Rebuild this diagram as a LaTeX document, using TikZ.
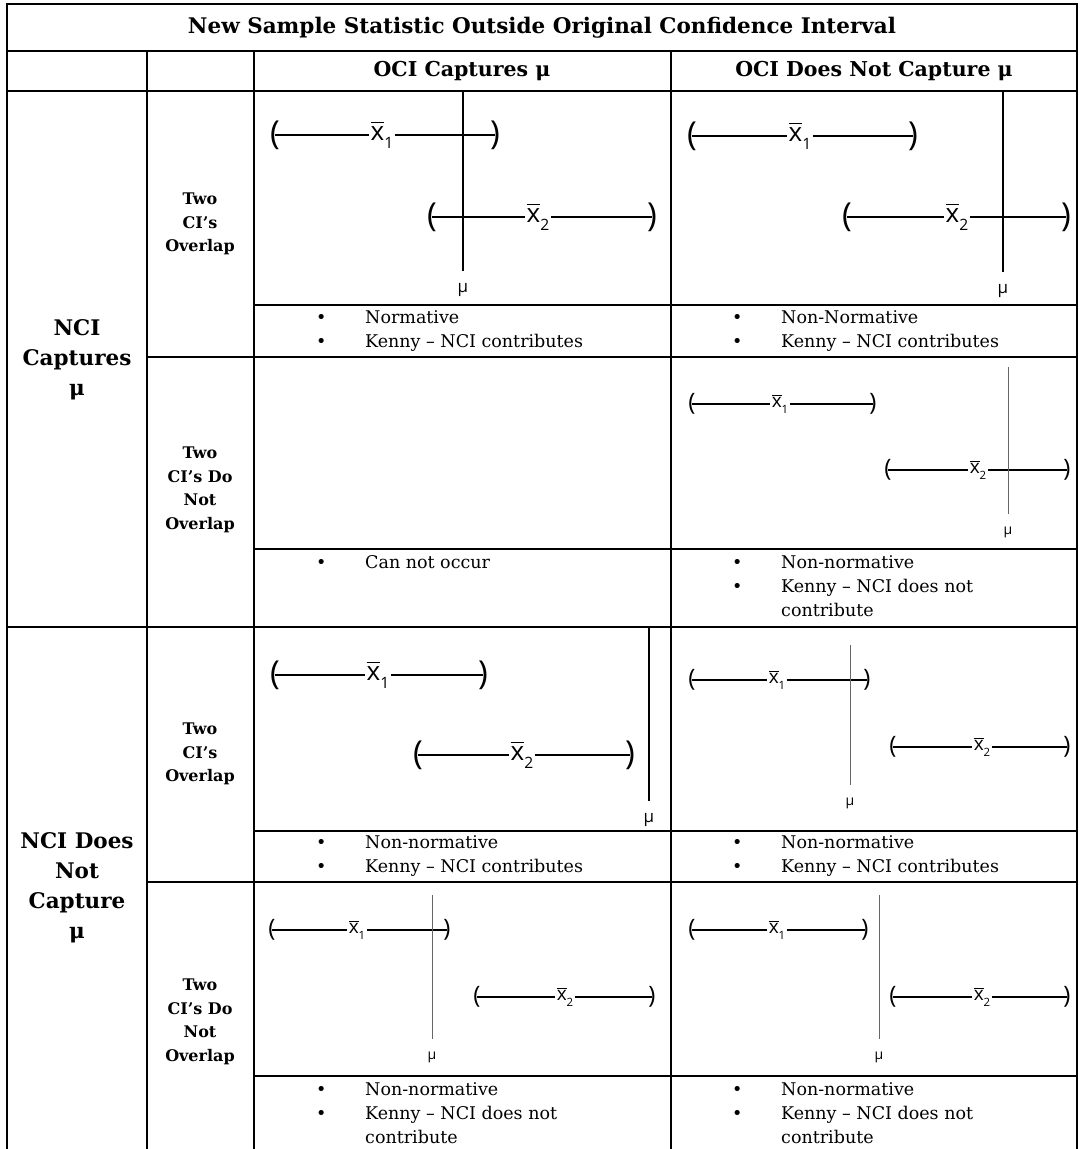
\documentclass[tikz,border=0pt]{standalone}
\usepackage{amsmath}
\usepackage{fontspec}
\setmainfont{DejaVu Serif}
\newfontfamily\lblfont{Open Sans}
\usepackage{tikz}

\begin{document}
\begin{tikzpicture}[x=1pt, y=-1pt,
    grid/.style={line width=2.2pt, line cap=rect},
    ttl/.style={font=\bfseries\fontsize{21.5}{26}\selectfont},
    hdr/.style={font=\bfseries\fontsize{20.5}{26}\selectfont},
    rowlbl/.style={font=\bfseries\fontsize{21.5}{30}\selectfont, align=center},
    sublbl/.style={font=\bfseries\fontsize{16}{23.5}\selectfont, align=center},
    blist/.style={anchor=west, inner sep=0pt, font=\fontsize{17.5}{24}\selectfont},
    bigpar/.style={inner sep=0pt, font=\lblfont\fontsize{33}{33}\selectfont},
    smallpar/.style={inner sep=0pt, font=\lblfont\fontsize{24}{24}\selectfont},
    bigx/.style={inner sep=2pt, font=\lblfont\fontsize{26}{26}\selectfont},
    smallx/.style={inner sep=1.5pt, font=\lblfont\fontsize{19}{19}\selectfont},
    bigmu/.style={inner sep=0pt, font=\lblfont\fontsize{17}{17}\selectfont},
    smallmu/.style={inner sep=0pt, font=\lblfont\fontsize{14}{14}\selectfont},
    ci/.style={line width=1.3pt},
    muline/.style={line width=1.2pt, shorten >=12pt},
    smallmuline/.style={line width=1pt, black!60, shorten >=12pt}]
    \useasboundingbox (0,0) rectangle (1080,1149);

    % table rules
    \draw[grid] (7,4) -- (1077,4);
    \draw[grid] (7,51) -- (1077,51);
    \draw[grid] (7,91) -- (1077,91);
    \draw[grid] (254,305) -- (1077,305);
    \draw[grid] (147,357) -- (1077,357);
    \draw[grid] (254,549) -- (1077,549);
    \draw[grid] (7,627) -- (1077,627);
    \draw[grid] (254,831) -- (1077,831);
    \draw[grid] (147,882) -- (1077,882);
    \draw[grid] (254,1076) -- (1077,1076);
    \draw[grid] (7,4) -- (7,1160);
    \draw[grid] (1077,4) -- (1077,1160);
    \draw[grid] (147,51) -- (147,1160);
    \draw[grid] (254,51) -- (254,1160);
    \draw[grid] (671,51) -- (671,1160);

    % headings
    \node[ttl] (title) at (542,28) {New Sample Statistic Outside Original Confidence Interval};
    \node[hdr] (hcap) at (462,71) {OCI Captures μ};
    \node[hdr] (hnot) at (874,71) {OCI Does Not Capture μ};

    \node[rowlbl] (ncicap) at (77,360) {NCI\\Captures\\μ};
    \node[rowlbl] (ncinot) at (77,888) {NCI Does\\Not\\Capture\\μ};

    \node[sublbl] (ovA) at (200,224) {Two\\CI’s\\Overlap};
    \node[sublbl] (ovB) at (200,490) {Two\\CI’s Do\\Not\\Overlap};
    \node[sublbl] (ovC) at (200,754) {Two\\CI’s\\Overlap};
    \node[sublbl] (ovD) at (200,1022) {Two\\CI’s Do\\Not\\Overlap};

    % row A, OCI captures
    \node[bigpar] (acL1) at (275,135) {(};
    \node[bigx] (acX1) at (382,135) {$\overline{\text{x}}$\raisebox{-.32em}{\scalebox{.6}{1}}};
    \node[bigpar] (acR1) at (495,135) {)};
    \draw[ci] (acL1.center) -- (acX1) -- (acR1.center);
    \node[bigpar] (acL2) at (432,217) {(};
    \node[bigx] (acX2) at (538,217) {$\overline{\text{x}}$\raisebox{-.32em}{\scalebox{.6}{2}}};
    \node[bigpar] (acR2) at (652,217) {)};
    \draw[ci] (acL2.center) -- (acX2) -- (acR2.center);
    \coordinate (acTop) at (463,92);
    \node[bigmu] (acMu) at (463,290) {μ};
    \draw[muline] (acTop) -- (acMu);

    % row A, OCI does not capture
    \node[bigpar] (anL1) at (692,136) {(};
    \node[bigx] (anX1) at (800,136) {$\overline{\text{x}}$\raisebox{-.32em}{\scalebox{.6}{1}}};
    \node[bigpar] (anR1) at (913,136) {)};
    \draw[ci] (anL1.center) -- (anX1) -- (anR1.center);
    \node[bigpar] (anL2) at (847,217) {(};
    \node[bigx] (anX2) at (957,217) {$\overline{\text{x}}$\raisebox{-.32em}{\scalebox{.6}{2}}};
    \node[bigpar] (anR2) at (1066,217) {)};
    \draw[ci] (anL2.center) -- (anX2) -- (anR2.center);
    \coordinate (anTop) at (1003,92);
    \node[bigmu] (anMu) at (1003,291) {μ};
    \draw[muline] (anTop) -- (anMu);

    % row B, OCI does not capture
    \node[smallpar] (bnL1) at (692,404) {(};
    \node[smallx] (bnX1) at (780,404) {$\overline{\text{x}}$\raisebox{-.32em}{\scalebox{.6}{1}}};
    \node[smallpar] (bnR1) at (873,404) {)};
    \draw[ci] (bnL1.center) -- (bnX1) -- (bnR1.center);
    \node[smallpar] (bnL2) at (888,470) {(};
    \node[smallx] (bnX2) at (978,470) {$\overline{\text{x}}$\raisebox{-.32em}{\scalebox{.6}{2}}};
    \node[smallpar] (bnR2) at (1067,470) {)};
    \draw[ci] (bnL2.center) -- (bnX2) -- (bnR2.center);
    \coordinate (bnTop) at (1008,367);
    \node[smallmu] (bnMu) at (1008,532) {μ};
    \draw[smallmuline] (bnTop) -- (bnMu);

    % row C, OCI captures
    \node[bigpar] (ccL1) at (275,675) {(};
    \node[bigx] (ccX1) at (378,675) {$\overline{\text{x}}$\raisebox{-.32em}{\scalebox{.6}{1}}};
    \node[bigpar] (ccR1) at (483,675) {)};
    \draw[ci] (ccL1.center) -- (ccX1) -- (ccR1.center);
    \node[bigpar] (ccL2) at (418,755) {(};
    \node[bigx] (ccX2) at (522,755) {$\overline{\text{x}}$\raisebox{-.32em}{\scalebox{.6}{2}}};
    \node[bigpar] (ccR2) at (630,755) {)};
    \draw[ci] (ccL2.center) -- (ccX2) -- (ccR2.center);
    \coordinate (ccTop) at (649,628);
    \node[bigmu] (ccMu) at (649,820) {μ};
    \draw[muline] (ccTop) -- (ccMu);

    % row C, OCI does not capture
    \node[smallpar] (cnL1) at (692,680) {(};
    \node[smallx] (cnX1) at (777,680) {$\overline{\text{x}}$\raisebox{-.32em}{\scalebox{.6}{1}}};
    \node[smallpar] (cnR1) at (867,680) {)};
    \draw[ci] (cnL1.center) -- (cnX1) -- (cnR1.center);
    \node[smallpar] (cnL2) at (893,747) {(};
    \node[smallx] (cnX2) at (982,747) {$\overline{\text{x}}$\raisebox{-.32em}{\scalebox{.6}{2}}};
    \node[smallpar] (cnR2) at (1067,747) {)};
    \draw[ci] (cnL2.center) -- (cnX2) -- (cnR2.center);
    \coordinate (cnTop) at (850,645);
    \node[smallmu] (cnMu) at (850,803) {μ};
    \draw[smallmuline] (cnTop) -- (cnMu);

    % row D, OCI captures
    \node[smallpar] (dcL1) at (272,930) {(};
    \node[smallx] (dcX1) at (357,930) {$\overline{\text{x}}$\raisebox{-.32em}{\scalebox{.6}{1}}};
    \node[smallpar] (dcR1) at (447,930) {)};
    \draw[ci] (dcL1.center) -- (dcX1) -- (dcR1.center);
    \node[smallpar] (dcL2) at (477,997) {(};
    \node[smallx] (dcX2) at (565,997) {$\overline{\text{x}}$\raisebox{-.32em}{\scalebox{.6}{2}}};
    \node[smallpar] (dcR2) at (652,997) {)};
    \draw[ci] (dcL2.center) -- (dcX2) -- (dcR2.center);
    \coordinate (dcTop) at (432,895);
    \node[smallmu] (dcMu) at (432,1057) {μ};
    \draw[smallmuline] (dcTop) -- (dcMu);

    % row D, OCI does not capture
    \node[smallpar] (dnL1) at (692,930) {(};
    \node[smallx] (dnX1) at (777,930) {$\overline{\text{x}}$\raisebox{-.32em}{\scalebox{.6}{1}}};
    \node[smallpar] (dnR1) at (865,930) {)};
    \draw[ci] (dnL1.center) -- (dnX1) -- (dnR1.center);
    \node[smallpar] (dnL2) at (893,997) {(};
    \node[smallx] (dnX2) at (982,997) {$\overline{\text{x}}$\raisebox{-.32em}{\scalebox{.6}{2}}};
    \node[smallpar] (dnR2) at (1067,997) {)};
    \draw[ci] (dnL2.center) -- (dnX2) -- (dnR2.center);
    \coordinate (dnTop) at (879,895);
    \node[smallmu] (dnMu) at (879,1057) {μ};
    \draw[smallmuline] (dnTop) -- (dnMu);

    % bullet lists
    \node[blist] (bA1) at (316,331) {\begin{tabular}{@{}p{49pt}@{}l@{}} • & Normative\\ • & Kenny – NCI contributes\end{tabular}};
    \node[blist] (bA2) at (732,331) {\begin{tabular}{@{}p{49pt}@{}l@{}} • & Non-Normative\\ • & Kenny – NCI contributes\end{tabular}};
    \node[blist] (bB1) at (316,564) {\begin{tabular}{@{}p{49pt}@{}l@{}} • & Can not occur\end{tabular}};
    \node[blist] (bB2) at (732,588) {\begin{tabular}{@{}p{49pt}@{}l@{}} • & Non-normative\\ • & Kenny – NCI does not\\ & contribute\end{tabular}};
    \node[blist] (bC1) at (316,856) {\begin{tabular}{@{}p{49pt}@{}l@{}} • & Non-normative\\ • & Kenny – NCI contributes\end{tabular}};
    \node[blist] (bC2) at (732,856) {\begin{tabular}{@{}p{49pt}@{}l@{}} • & Non-normative\\ • & Kenny – NCI contributes\end{tabular}};
    \node[blist] (bD1) at (316,1115) {\begin{tabular}{@{}p{49pt}@{}l@{}} • & Non-normative\\ • & Kenny – NCI does not\\ & contribute\end{tabular}};
    \node[blist] (bD2) at (732,1115) {\begin{tabular}{@{}p{49pt}@{}l@{}} • & Non-normative\\ • & Kenny – NCI does not\\ & contribute\end{tabular}};
\end{tikzpicture}
\end{document}
